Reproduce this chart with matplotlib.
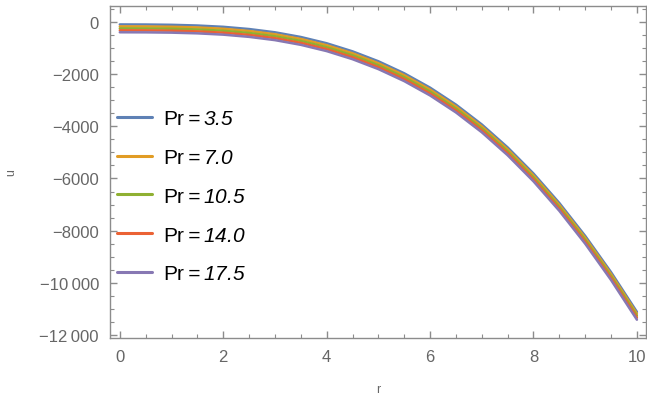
import matplotlib
matplotlib.use("Agg")
import matplotlib.pyplot as plt
from matplotlib.ticker import MultipleLocator, FuncFormatter

# values (r step 0.5)
r = [0.0, 0.5, 1.0, 1.5, 2.0, 2.5, 3.0, 3.5, 4.0, 4.5, 5.0,
     5.5, 6.0, 6.5, 7.0, 7.5, 8.0, 8.5, 9.0, 9.5, 10.0]

u_pr35 = [-100, -103, -114, -141, -191, -276, -401, -581, -821, -1131, -1511,
          -1971, -2521, -3171, -3931, -4811, -5811, -6941, -8201, -9591, -11111]
u_pr70 = [-175, -178, -189, -216, -266, -351, -476, -656, -896, -1206, -1586,
          -2046, -2596, -3246, -4006, -4886, -5886, -7016, -8276, -9666, -11186]
u_pr105 = [-250, -253, -264, -291, -341, -426, -551, -731, -971, -1281, -1661,
           -2121, -2671, -3321, -4081, -4961, -5961, -7091, -8351, -9741, -11261]
u_pr140 = [-325, -328, -339, -366, -416, -501, -626, -806, -1046, -1356, -1736,
           -2196, -2746, -3396, -4156, -5036, -6036, -7166, -8426, -9816, -11336]
u_pr175 = [-400, -403, -414, -441, -491, -576, -701, -881, -1121, -1431, -1811,
           -2271, -2821, -3471, -4231, -5111, -6111, -7241, -8501, -9891, -11411]

labels = ["3.5", "7.0", "10.5", "14.0", "17.5"]
series = [u_pr35, u_pr70, u_pr105, u_pr140, u_pr175]
colors = ["#5E81B5", "#E19C24", "#8FB032", "#EB6235", "#8778B3"]

plt.rcParams["font.family"] = ["Liberation Sans", "DejaVu Sans"]
# math part of the legend labels is italic in the reference
plt.rcParams["mathtext.fontset"] = "custom"
plt.rcParams["mathtext.rm"] = "Liberation Sans:italic"
plt.rcParams["mathtext.it"] = "Liberation Sans:italic"

fig = plt.figure(figsize=(6.47, 4.02), dpi=100)
ax = fig.add_axes([0.170, 0.157, 0.828, 0.826])

for vals, lab, col in zip(series, labels, colors):
    ax.plot(r, vals, color=col, lw=1.8, solid_capstyle="round",
            solid_joinstyle="round", label=r"Pr$=" + lab + "$")

ax.set_xlim(-0.19, 10.17)
ax.set_ylim(-12107, 613)

frame_col = "#8c8c8c"
text_col = "#666666"
for sp in ax.spines.values():
    sp.set_color(frame_col)
    sp.set_linewidth(1.0)

ax.xaxis.set_major_locator(MultipleLocator(2))
ax.xaxis.set_minor_locator(MultipleLocator(0.5))
ax.yaxis.set_major_locator(MultipleLocator(2000))
ax.yaxis.set_minor_locator(MultipleLocator(500))


def fmt_y(v, pos):
    n = int(round(v))
    s = str(abs(n))
    if abs(n) >= 10000:
        s = s[:-3] + "\u2009" + s[-3:]
    return ("\u2212" if n < 0 else "") + s


ax.yaxis.set_major_formatter(FuncFormatter(fmt_y))
ax.tick_params(which="both", direction="in", top=True, right=True,
               color=frame_col, labelcolor=text_col, labelsize=12)
ax.tick_params(which="major", length=5, width=1.0)
ax.tick_params(which="minor", length=3, width=0.8)
ax.tick_params(axis="y", pad=8)
ax.tick_params(axis="x", pad=8)

ax.set_xlabel("r", color=text_col, fontsize=9, labelpad=14)
ax.set_ylabel("u", color=text_col, fontsize=9, labelpad=16)

leg = ax.legend(loc="center left", bbox_to_anchor=(0.013, 0.4265),
                frameon=False, fontsize=15, handlelength=1.7,
                handletextpad=0.5, labelspacing=0.95, borderpad=0,
                borderaxespad=0)
for line in leg.get_lines():
    line.set_linewidth(2.2)

fig.savefig("out.png", dpi=100)
